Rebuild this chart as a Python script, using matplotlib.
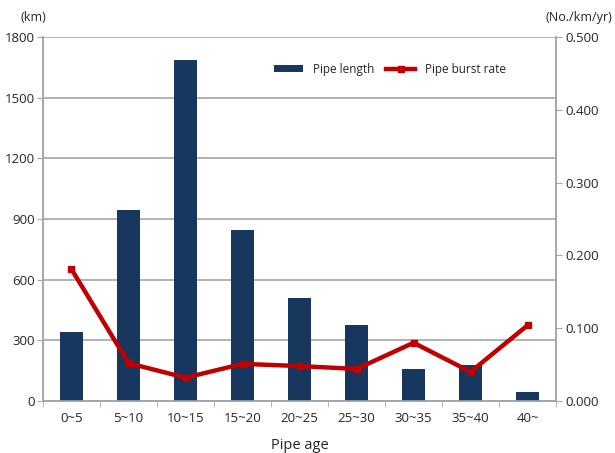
import numpy as np
import matplotlib
matplotlib.use("Agg")
import matplotlib.pyplot as plt

plt.rcParams['font.family'] = ['Open Sans', 'DejaVu Sans']

# data
ages = ["0~5", "5~10", "10~15", "15~20", "20~25", "25~30", "30~35", "35~40", "40~"]
pipe_length = [340, 945, 1686, 846, 509, 376, 158, 178, 45]
burst_rate = [0.181, 0.052, 0.032, 0.051, 0.048, 0.044, 0.080, 0.040, 0.104]

bar_color = "#17375E"
line_color = "#C00000"
grid_color = "#A6A6A6"
text_color = "#262626"

fig = plt.figure(figsize=(6.15, 4.53), dpi=100)
ax = fig.add_axes([0.0699, 0.1148, 0.8343, 0.8035])
ax2 = ax.twinx()

x = np.arange(len(ages))
ax.bar(x, pipe_length, width=0.39, color=bar_color, label="Pipe length", zorder=3)
ax2.plot(x, burst_rate, color=line_color, lw=3.2, marker="s", ms=5,
         label="Pipe burst rate", zorder=4)

ax.set_xlim(-0.5, len(ages) - 0.5)
ax.set_ylim(0, 1800)
ax.set_yticks(np.arange(0, 1801, 300))
ax2.set_ylim(0, 0.5)
ax2.set_yticks(np.arange(0, 0.501, 0.1))
ax2.set_yticklabels(["%.3f" % v for v in np.arange(0, 0.501, 0.1)])

ax.set_xticks(x)
ax.set_xticklabels(ages)
ax.set_xticks(np.arange(-0.5, len(ages), 1), minor=True)
ax.tick_params(axis="x", which="major", length=0, pad=8, labelsize=9.5, colors=text_color)
ax.tick_params(axis="x", which="minor", length=4, color=grid_color)
ax.tick_params(axis="y", length=4, color=grid_color, labelsize=9.5, colors=text_color, pad=2)
ax2.tick_params(axis="y", length=4, color=grid_color, labelsize=9.5, colors=text_color, pad=3)

ax.grid(axis="y", color=grid_color, lw=1.2, zorder=0)
ax.set_axisbelow(True)
for a in (ax, ax2):
    a.spines["top"].set_visible(False)
    for side in ("left", "right", "bottom"):
        a.spines[side].set_color(grid_color)
        a.spines[side].set_linewidth(1.2)

ax.set_xlabel("Pipe age", fontsize=10.5, color=text_color, labelpad=9)
fig.text(0.033, 0.962, "(km)", fontsize=9, color=text_color, ha="left", va="center")
fig.text(0.995, 0.962, "(No./km/yr)", fontsize=9, color=text_color, ha="right", va="center")

h1, l1 = ax.get_legend_handles_labels()
h2, l2 = ax2.get_legend_handles_labels()
leg = ax2.legend(h1 + h2, l1 + l2, loc="center", bbox_to_anchor=(0.677, 0.912),
                 ncol=2, frameon=False, fontsize=8.5, handlelength=2.4,
                 handleheight=0.5, columnspacing=1.0, handletextpad=0.9)
for t in leg.get_texts():
    t.set_color(text_color)

fig.savefig("out.png", dpi=100)
